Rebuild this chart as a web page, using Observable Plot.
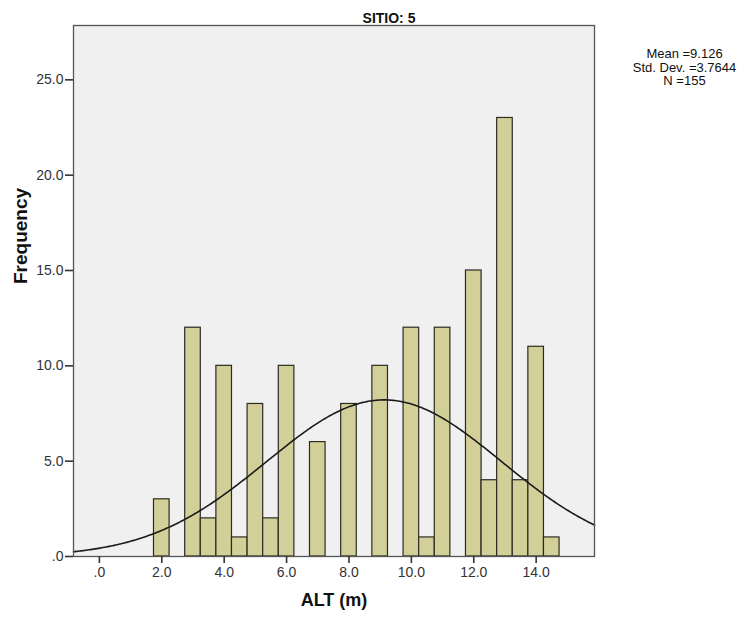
<!DOCTYPE html>
<html>
<head>
<meta charset="utf-8">
<script src="https://cdn.jsdelivr.net/npm/d3@7"></script>
<script src="https://cdn.jsdelivr.net/npm/@observablehq/plot@0.6"></script>
<style>
  html, body { margin: 0; padding: 0; background: #fff; }
  svg { display: block; }
</style>
</head>
<body>
<div id="chart"></div>
<script>
// Histogram data (bin centres, width 0.5 m)
const binCenters = [2.0, 3.0, 3.5, 4.0, 4.5, 5.0, 5.5, 6.0, 7.0, 8.0, 9.0, 10.0, 10.5, 11.0, 12.0, 12.5, 13.0, 13.5, 14.0, 14.5];
const counts     = [3,   12,  2,   10,  1,   8,   2,   10,  6,   8,   10,  12,   1,    12,   15,   4,    23,   4,    11,   1];
const binWidth = 0.5;
const xTicks = [0, 2, 4, 6, 8, 10, 12, 14];
const yTicks = [0, 5, 10, 15, 20, 25];
const statsLines = ["Mean =9.126", "Std. Dev. =3.7644", "N =155"];
const mean = 9.126, sd = 3.7644, n = 155;
const titleText = "SITIO: 5";
const xLabel = "ALT (m)";
const yLabel = "Frequency";

const bars = binCenters.map((c, i) => ({x1: c - binWidth / 2, x2: c + binWidth / 2, count: counts[i]}));

// Fitted normal curve from the displayed mean / std. dev. / N
const xDomain = [-0.83, 15.87];
const curve = d3.range(xDomain[0], xDomain[1] + 0.001, 0.05).map(x => ({
  x,
  y: n * binWidth / (sd * Math.sqrt(2 * Math.PI)) * Math.exp(-0.5 * ((x - mean) / sd) ** 2)
}));

const fmt = d => d === 0 ? ".0" : d.toFixed(1);
const font = "'Liberation Sans', Arial, sans-serif";

const chart = Plot.plot({
  width: 746,
  height: 623,
  marginLeft: 73,
  marginRight: 152,
  marginTop: 25,
  marginBottom: 67,
  style: {fontFamily: font, background: "#fff"},
  x: {domain: xDomain, ticks: xTicks, tickFormat: fmt},
  y: {domain: [0, 27.85], ticks: yTicks, tickFormat: fmt},
  marks: [
    Plot.frame({fill: "#f0f0f0", stroke: "none"}),
    Plot.rectY(bars, {x1: "x1", x2: "x2", y: "count", fill: "#d3cf98", stroke: "#2b2b22", strokeWidth: 1.2}),
    Plot.line(curve, {x: "x", y: "y", stroke: "#1a1a1a", strokeWidth: 1.6, curve: "basis"}),
    Plot.frame({stroke: "#555", strokeWidth: 1.3}),
    Plot.axisX({ticks: xTicks, tickFormat: fmt, tickSize: 7, tickPadding: 4, fontSize: 14, color: "#333", label: null, strokeWidth: 1.6}),
    Plot.axisY({ticks: yTicks, tickFormat: fmt, tickSize: 8, tickPadding: 2, fontSize: 14, color: "#333", label: null, strokeWidth: 1.6}),
    Plot.text([titleText], {frameAnchor: "top", text: d => d, dx: 55, dy: -12, fontSize: 14, fontWeight: "bold", fill: "#111"}),
    Plot.text([statsLines.join("\n")], {frameAnchor: "top-right", text: d => d, dx: 90, dy: 23, fontSize: 13, lineHeight: 1.05, textAnchor: "middle", fill: "#111"}),
    Plot.text([xLabel], {frameAnchor: "bottom", text: d => d, dy: 49, fontSize: 18, fontWeight: "bold", fill: "#111"}),
    Plot.text([yLabel], {frameAnchor: "left", text: d => d, dx: -53, dy: -7, rotate: -90, fontSize: 19, fontWeight: "bold", fill: "#111"})
  ]
});
document.getElementById("chart").appendChild(chart);
</script>
</body>
</html>
